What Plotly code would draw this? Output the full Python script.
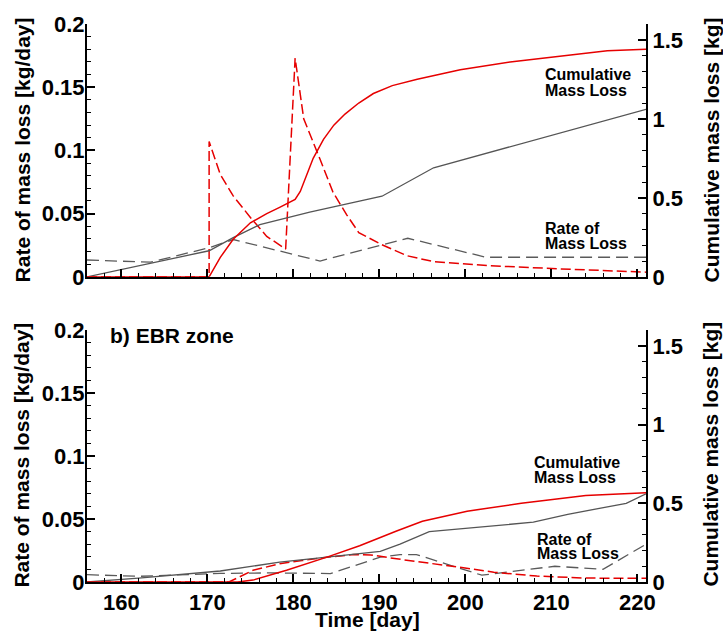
import plotly.graph_objects as go

# ---------------- data: panel a (top) ----------------
t_a_gray_cum = [156, 170.2, 173.0, 176.1, 181.9, 187.6, 190.3, 196.3, 221]
cum_a_gray = [0, 0.165, 0.248, 0.33, 0.41, 0.48, 0.51, 0.69, 1.06]

t_a_gray_rate = [156, 163.4, 170.2, 173.0, 183.1, 193.3, 202.4, 221]
rate_a_gray = [0.0133, 0.0116, 0.023, 0.0295, 0.0125, 0.0305, 0.0155, 0.0155]

t_a_red_cum = [156, 170.2, 171.5, 173.0, 175.0, 176.9, 178.4, 180.2, 180.8, 181.5, 182.3,
               183.5, 184.7, 186.0, 187.6, 189.3, 191.5, 194.4, 199.4, 205.2, 210.3, 216.5, 221]
cum_a_red = [0, 0, 0.123, 0.238, 0.342, 0.40, 0.44, 0.49, 0.54, 0.64, 0.75,
             0.87, 0.96, 1.03, 1.10, 1.16, 1.21, 1.25, 1.31, 1.36, 1.39, 1.43, 1.44]

t_a_red_rate = [156, 170.2, 170.2, 171.5, 173.0, 175.0, 176.9, 179.1, 180.2,
                181.2, 183.1, 184.6, 186.2, 187.6, 190.1, 193.2, 196.3, 202.5, 211, 221]
rate_a_red = [0, 0, 0.107, 0.081, 0.064, 0.047, 0.032, 0.022, 0.173,
              0.125, 0.093, 0.067, 0.049, 0.035, 0.026, 0.0167, 0.012, 0.0089, 0.0063, 0.0037]

# ---------------- data: panel b (bottom, EBR zone) ----------------
t_b_gray_cum = [156, 162, 171.5, 178.4, 183.9, 190.1, 192.4, 195.8, 207.9, 211.9, 218.7, 221]
cum_b_gray = [0, 0.025, 0.070, 0.126, 0.158, 0.195, 0.24, 0.32, 0.38, 0.43, 0.50, 0.56]

t_b_gray_rate = [156, 162, 171.5, 177.3, 184.3, 190.1, 192.4, 194.3, 201.9, 210.4, 216, 221]
rate_b_gray = [0.0058, 0.0045, 0.0068, 0.0072, 0.0067, 0.0197, 0.0218, 0.0218, 0.0054, 0.0125, 0.0101, 0.030]

t_b_red_cum = [156, 173.5, 175.3, 179.2, 183.9, 187.7, 192.0, 195.0, 200.2, 206.5, 214, 221]
cum_b_red = [0, 0, 0.012, 0.075, 0.158, 0.23, 0.324, 0.386, 0.45, 0.50, 0.55, 0.567]

t_b_red_rate = [156, 172.5, 175.3, 178.4, 181, 183.9, 187.0, 189.0, 192.0, 195.6, 199.3, 203.3, 208.3, 214, 221]
rate_b_red = [0, 0, 0.0093, 0.0145, 0.017, 0.0197, 0.0218, 0.0215, 0.0184, 0.0148, 0.0117, 0.0078, 0.0047, 0.0031, 0.003]

x_range = [156, 221]
rate_range = [0, 0.2]
cum_range = [0, 1.6]

RED = "#e60000"
GRAY_SOLID = "#555555"
GRAY_DASH = "#5a5a5a"
FONT = "Liberation Sans"

fig = go.Figure()

def add(t, v, xa, ya, color, width, dash):
    fig.add_trace(go.Scatter(x=t, y=v, xaxis=xa, yaxis=ya, mode="lines",
                             line=dict(color=color, width=width, dash=dash),
                             showlegend=False, hoverinfo="skip"))

# top panel
add(t_a_gray_rate, rate_a_gray, "x", "y", GRAY_DASH, 1.3, "12px,6px")
add(t_a_gray_cum, cum_a_gray, "x", "y2", GRAY_SOLID, 1.3, "solid")
add(t_a_red_rate, rate_a_red, "x", "y", RED, 1.5, "10px,4px")
add(t_a_red_cum, cum_a_red, "x", "y2", RED, 1.5, "solid")
# bottom panel
add(t_b_gray_rate, rate_b_gray, "x2", "y3", GRAY_DASH, 1.3, "12px,6px")
add(t_b_gray_cum, cum_b_gray, "x2", "y4", GRAY_SOLID, 1.3, "solid")
add(t_b_red_rate, rate_b_red, "x2", "y3", RED, 1.5, "10px,4px")
add(t_b_red_cum, cum_b_red, "x2", "y4", RED, 1.5, "solid")

tickfont = dict(family=FONT, size=22, color="black", weight="bold")

def xaxis(anchor, labels):
    return dict(domain=[0, 1], anchor=anchor, range=x_range, showgrid=False, zeroline=False,
                showline=True, linecolor="black", linewidth=2, ticks="inside", ticklen=8,
                tickwidth=1.5, tickcolor="black", tick0=0, dtick=10,
                minor=dict(dtick=2, ticks="inside", ticklen=4, tickcolor="black", tickwidth=1),
                showticklabels=labels, tickfont=tickfont)

def yleft(domain, anchor):
    return dict(domain=domain, anchor=anchor, range=rate_range, showgrid=False, zeroline=False,
                showline=True, linecolor="black", linewidth=2, ticks="inside", ticklen=8,
                tickwidth=1.5, tickcolor="black", tick0=0, dtick=0.05,
                minor=dict(dtick=0.01, ticks="inside", ticklen=4, tickcolor="black", tickwidth=1),
                tickfont=tickfont, ticklabelstandoff=-4)

def yright(overlay, anchor):
    return dict(overlaying=overlay, anchor=anchor, side="right", range=cum_range, showgrid=False,
                zeroline=False, showline=True, linecolor="black", linewidth=2, ticks="inside",
                ticklen=8, tickwidth=1.5, tickcolor="black", tick0=0, dtick=0.5,
                minor=dict(dtick=0.1, ticks="inside", ticklen=4, tickcolor="black", tickwidth=1),
                tickfont=tickfont)

L, R, T, B = 87, 77, 17, 49
H = 631 - T - B
top_dom = [(582 - 273) / H, 1]
bot_dom = [0, (582 - 327) / H]

def px_x(px):
    return (px - L) / (723 - L - R)

def px_y(py):
    return (582 - py) / H

title_font = dict(family=FONT, size=21, color="black", weight="bold")
lab_font = dict(family=FONT, size=16, color="black", weight="bold")

annotations = [
    dict(text="Rate of mass loss [kg/day]", xref="paper", yref="paper", x=px_x(22), y=px_y(145),
         textangle=-90, showarrow=False, font=title_font, xanchor="center", yanchor="middle"),
    dict(text="Rate of mass loss [kg/day]", xref="paper", yref="paper", x=px_x(22), y=px_y(454),
         textangle=-90, showarrow=False, font=title_font, xanchor="center", yanchor="middle"),
    dict(text="Cumulative mass loss [kg]", xref="paper", yref="paper", x=px_x(711), y=px_y(145),
         textangle=-90, showarrow=False, font=title_font, xanchor="center", yanchor="middle"),
    dict(text="Cumulative mass loss [kg]", xref="paper", yref="paper", x=px_x(711), y=px_y(453),
         textangle=-90, showarrow=False, font=title_font, xanchor="center", yanchor="middle"),
    dict(text="Time [day]", xref="paper", yref="paper", x=px_x(367), y=px_y(620),
         showarrow=False, font=title_font, xanchor="center", yanchor="middle"),
    dict(text="b) EBR zone", xref="paper", yref="paper", x=px_x(108), y=px_y(332),
         showarrow=False, font=title_font, xanchor="left", yanchor="middle"),
    # inline labels
    dict(text="Cumulative", xref="x", yref="y2", x=209.0, y=1.28, showarrow=False, font=lab_font,
         xanchor="left", yanchor="middle"),
    dict(text="Mass Loss", xref="x", yref="y2", x=209.0, y=1.18, showarrow=False, font=lab_font,
         xanchor="left", yanchor="middle"),
    dict(text="Rate of", xref="x", yref="y2", x=209.0, y=0.309, showarrow=False, font=lab_font,
         xanchor="left", yanchor="middle"),
    dict(text="Mass Loss", xref="x", yref="y2", x=209.0, y=0.209, showarrow=False, font=lab_font,
         xanchor="left", yanchor="middle"),
    dict(text="Cumulative", xref="x2", yref="y4", x=207.8, y=0.760, showarrow=False, font=lab_font,
         xanchor="left", yanchor="middle"),
    dict(text="Mass Loss", xref="x2", yref="y4", x=207.8, y=0.666, showarrow=False, font=lab_font,
         xanchor="left", yanchor="middle"),
    dict(text="Rate of", xref="x2", yref="y4", x=208.1, y=0.272, showarrow=False, font=lab_font,
         xanchor="left", yanchor="middle"),
    dict(text="Mass Loss", xref="x2", yref="y4", x=208.1, y=0.181, showarrow=False, font=lab_font,
         xanchor="left", yanchor="middle"),
]

fig.update_layout(
    width=723, height=631,
    margin=dict(l=L, r=R, t=T, b=B, pad=0),
    paper_bgcolor="white", plot_bgcolor="white",
    font=dict(family=FONT, color="black"),
    showlegend=False,
    xaxis=xaxis("y", False),
    yaxis=yleft(top_dom, "x"),
    yaxis2=yright("y", "x"),
    xaxis2=xaxis("y3", True),
    yaxis3=yleft(bot_dom, "x2"),
    yaxis4=yright("y3", "x2"),
    annotations=annotations,
)

fig.write_html("out.html")
